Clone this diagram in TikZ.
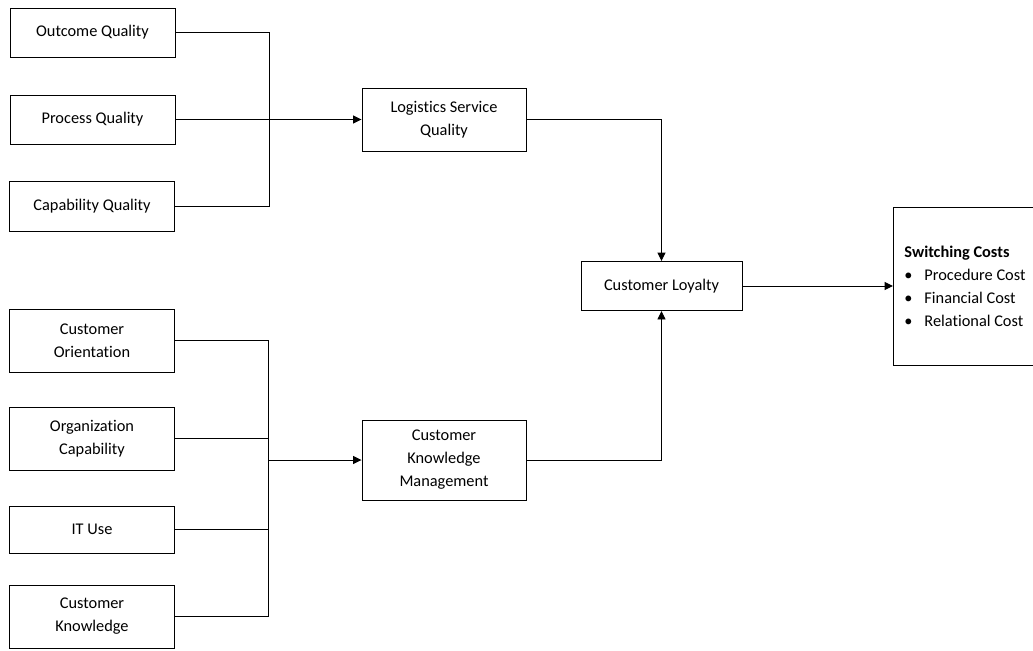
\documentclass[tikz,border=0pt]{standalone}
\usepackage{fontspec}
\setmainfont{Carlito}[Ligatures=NoCommon]
\usepackage{tikz}
\usetikzlibrary{arrows.meta,positioning}

\begin{document}
\begin{tikzpicture}[
  x=0.02cm, y=-0.02cm,
  every node/.style={font=\fontsize{9.3}{13.1}\selectfont},
  factor/.style={draw, line width=0.55pt, minimum width=3.3cm, align=center, inner sep=1pt},
  link/.style={line width=0.55pt},
  >={Triangle[length=0.17cm,width=0.16cm]}
]
\useasboundingbox (0,0) rectangle (1033,650);

% ── Logistics service quality dimensions ──────────────────────────────────
\node[factor, minimum height=0.98cm] (oq) at (92.5,32.5) {Outcome Quality};
\node[factor, minimum height=0.98cm] (pq) at (92.5,119.5) {Process Quality};
\node[factor, minimum height=1.0cm] (cq) at (92,206) {Capability Quality};
\coordinate (jq) at (269,119.5);

\node[factor, minimum width=3.28cm, minimum height=1.26cm] (lsq) at (444,119.5)
  {Logistics Service\\Quality};

% ── Customer knowledge management dimensions ──────────────────────────────
\node[factor, minimum height=1.26cm] (co) at (92,340.5) {Customer\\Orientation};
\node[factor, minimum height=1.26cm] (ok) at (92,438.5) {Organization\\Capability};
\node[factor, minimum height=0.94cm] (it) at (92,529.5) {IT Use};
\node[factor, minimum height=1.26cm] (ck) at (92,616.5) {Customer\\Knowledge};
\coordinate (jk) at (268,460);

\node[factor, minimum width=3.28cm, minimum height=1.6cm] (ckm) at (444,460)
  {Customer\\Knowledge\\Management};

% ── Loyalty and switching costs ──────────────────────────────────────────
\node[factor, minimum width=3.22cm, minimum height=0.98cm] (cl) at (661.5,286)
  {Customer Loyalty};
\node[draw, line width=0.55pt, anchor=west, minimum height=3.16cm,
  text width=2.6cm, inner xsep=0.22cm, align=flush left] (sc) at (893,286)
  {\textbf{Switching Costs}\\
   \makebox[0.4cm][l]{\textbullet}Procedure Cost\\
   \makebox[0.4cm][l]{\textbullet}Financial Cost\\
   \makebox[0.4cm][l]{\textbullet}Relational Cost};

% ── Connectors ───────────────────────────────────────────────────────────
\draw[link] (oq.east) -| (jq);
\draw[link] (cq.east) -| (jq);
\draw[link, ->] (pq.east) -- (lsq.west);

\draw[link] (co.east) -| (jk);
\draw[link] (ok.east) -| (jk);
\draw[link] (it.east) -| (jk);
\draw[link] (ck.east) -| (jk);
\draw[link, ->] (jk) -- (ckm.west);

\draw[link, ->] (lsq.east) -| (cl.north);
\draw[link, ->] (ckm.east) -| (cl.south);
\draw[link, ->] (cl.east) -- (sc.west);

\end{tikzpicture}
\end{document}
